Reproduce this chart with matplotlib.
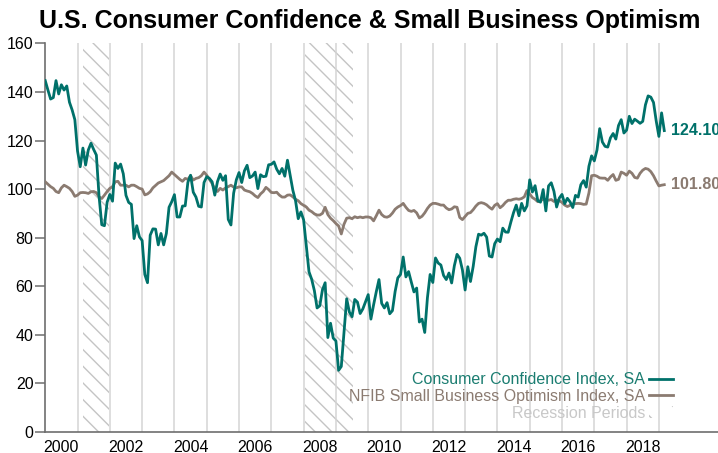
import numpy as np
import matplotlib.pyplot as plt
from matplotlib.lines import Line2D
from matplotlib.patches import Patch

plt.rcParams['font.family'] = ['Liberation Sans', 'DejaVu Sans']
plt.rcParams['hatch.linewidth'] = 1.0

title = "U.S. Consumer Confidence & Small Business Optimism"
start_year = 2000  # monthly data from Jan 2000

# Conference Board Consumer Confidence Index, SA (Jan 2000 - Mar 2019)
cci = [
    144.7, 140.8, 137.1, 137.7, 144.7, 139.2, 143.0, 140.8, 142.5, 135.8, 132.6, 128.6,
    115.7, 109.2, 116.9, 109.9, 116.1, 118.9, 116.3, 114.0, 97.0, 85.3, 84.9, 94.6,
    97.8, 95.0, 110.7, 108.5, 110.3, 106.3, 97.4, 94.5, 93.7, 79.6, 84.9, 80.3,
    78.8, 64.8, 61.4, 81.0, 83.6, 83.5, 77.0, 81.7, 77.0, 81.7, 92.5, 94.8,
    97.7, 88.5, 88.5, 93.0, 93.1, 102.8, 105.7, 98.7, 96.7, 92.9, 92.6, 102.7,
    105.1, 104.4, 103.0, 97.5, 103.1, 106.2, 103.6, 105.5, 87.5, 85.2, 98.3, 103.8,
    106.8, 102.7, 107.5, 109.8, 104.7, 105.4, 107.0, 100.2, 105.9, 105.1, 105.3, 110.0,
    110.2, 111.2, 108.2, 106.3, 108.5, 105.3, 111.9, 105.6, 99.5, 95.2, 87.8, 90.6,
    87.3, 76.4, 65.9, 62.8, 58.1, 51.0, 51.9, 58.5, 61.4, 38.8, 44.7, 38.6,
    37.4, 25.3, 26.9, 40.8, 54.8, 49.3, 47.4, 54.5, 53.4, 48.7, 50.6, 53.6,
    56.5, 46.4, 52.3, 57.7, 62.7, 52.9, 51.0, 53.2, 48.6, 49.9, 57.8, 63.4,
    64.8, 72.0, 63.8, 66.0, 61.7, 57.6, 59.2, 45.2, 46.4, 40.9, 55.2, 64.8,
    61.5, 71.6, 69.5, 68.7, 64.4, 62.7, 65.4, 61.3, 68.4, 73.1, 71.5, 66.7,
    58.4, 68.0, 61.9, 68.1, 76.2, 81.4, 81.0, 81.8, 80.2, 72.4, 72.0, 77.5,
    79.4, 78.3, 83.9, 82.3, 82.2, 86.4, 90.3, 93.4, 89.0, 94.1, 91.0, 93.1,
    103.8, 98.8, 101.4, 95.2, 94.6, 99.8, 91.0, 101.3, 102.6, 99.1, 92.6, 96.3,
    97.8, 94.0, 96.2, 94.7, 92.4, 97.4, 96.7, 101.8, 103.5, 100.8, 109.4, 113.7,
    111.6, 116.1, 124.9, 119.4, 117.6, 117.3, 121.1, 122.9, 120.6, 126.2, 128.6, 123.1,
    124.3, 130.0, 127.0, 128.8, 128.0, 127.1, 127.9, 134.7, 138.4, 137.9, 135.7, 128.1,
    121.7, 131.4, 124.1,
]

# NFIB Small Business Optimism Index, SA (Jan 2000 - Mar 2019)
nfib = [
    103.0, 102.0, 101.0, 100.3, 99.0, 98.5, 100.5, 101.6, 101.0, 100.3, 99.0, 97.0,
    97.5, 98.5, 98.6, 98.5, 98.2, 98.9, 99.0, 98.5, 96.8, 96.1, 97.5, 99.0,
    100.3, 101.0, 103.0, 103.2, 101.6, 101.6, 101.6, 100.9, 101.6, 101.6, 101.0, 100.3,
    100.0, 97.6, 98.0, 98.9, 100.5, 101.5, 102.5, 103.0, 103.5, 104.5, 105.5, 107.0,
    106.0, 105.0, 104.0, 103.2, 104.4, 104.0, 105.5, 103.7, 104.4, 104.7, 105.5, 107.0,
    105.7, 104.0, 102.3, 100.0, 99.0, 100.3, 99.6, 100.5, 101.0, 101.6, 100.8, 100.5,
    100.9, 100.9, 99.6, 99.2, 98.9, 98.2, 97.2, 96.5, 98.0, 99.0, 100.7, 99.8,
    98.6, 98.5, 98.7, 97.5, 96.7, 96.7, 97.5, 97.6, 96.8, 95.8, 95.2, 94.0,
    93.3, 92.6, 91.3, 90.7, 89.8, 89.3, 89.3, 90.0, 92.5, 89.5, 88.0, 87.0,
    85.8, 84.8, 81.5, 85.5, 88.0, 88.2, 87.8, 88.6, 88.2, 88.5, 88.2, 88.5,
    88.5, 88.2, 86.9, 89.0, 91.3, 89.5, 88.6, 88.4, 88.9, 90.1, 91.7, 92.6,
    93.2, 94.1, 92.5, 91.2, 90.8, 91.2, 90.2, 88.1, 88.8, 90.2, 92.0, 93.4,
    94.1, 94.1, 93.8, 93.4, 93.4, 92.2, 91.5, 91.8, 92.7, 92.5, 88.3, 87.4,
    88.7, 90.0, 90.3, 91.5, 93.0, 94.1, 94.4, 94.1, 93.5, 92.5, 91.7, 93.3,
    94.0, 92.3, 93.2, 94.5, 95.4, 95.4, 95.8, 96.0, 95.8, 96.1, 96.8, 99.4,
    98.0, 96.5, 95.8, 94.8, 95.2, 95.8, 95.7, 95.4, 95.7, 94.9, 95.4, 95.2,
    94.5, 93.4, 92.8, 93.3, 93.8, 94.0, 94.1, 94.0, 93.7, 93.8, 98.4, 105.5,
    105.7, 105.3, 104.6, 104.5, 104.5, 103.6, 105.0, 106.0, 103.6, 104.0, 107.0, 106.5,
    105.7, 107.4, 106.5, 104.8, 104.5, 106.5, 107.8, 108.5, 108.2, 107.2, 105.5, 103.3,
    101.3, 101.6, 101.8,
]

# recession periods (decimal years)
recessions = [(2001.17, 2001.97), (2008.04, 2009.53)]

year_labels = list(range(2000, 2019, 2))
grid_years = list(range(2001, 2020))
y_ticks = list(range(0, 161, 20))

teal = '#00716a'
taupe = '#8b7b71'
hatch_gray = '#c4c4c4'
axis_gray = '#6e6e6e'

months = start_year + np.arange(len(cci)) / 12

fig = plt.figure(figsize=(7.18, 4.53), dpi=100)
ax = fig.add_axes([0.063, 0.047, 0.937, 0.857])

for a, b in recessions:
    ax.axvspan(a, b, facecolor='none', edgecolor=hatch_gray, hatch='\\\\', linewidth=0, zorder=1)

ax.plot(months, nfib, color=taupe, lw=2, zorder=3)
ax.plot(months, cci, color=teal, lw=2, zorder=4)

ax.set_xlim(2000, 2020.83)
ax.set_ylim(0, 160)

# year labels sit mid-year, gridlines at year starts
ax.set_xticks([y + 0.5 for y in year_labels])
ax.set_xticklabels([str(y) for y in year_labels])
ax.set_xticks(grid_years, minor=True)
ax.tick_params(axis='x', which='both', length=0, pad=6, labelsize=11.5)
ax.grid(which='minor', axis='x', color='#d4d4d4', lw=1.1, zorder=0)

ax.set_yticks(y_ticks)
ax.tick_params(axis='y', length=7, width=1.1, color=axis_gray, pad=1.5, labelsize=11.5)

for side in ['top', 'right']:
    ax.spines[side].set_visible(False)
for side in ['left', 'bottom']:
    ax.spines[side].set_color(axis_gray)
    ax.spines[side].set_linewidth(1.2)

fig.text(0.515, 0.953, title, ha='center', va='center', fontsize=18, fontweight='bold')

# end-value labels
ax.annotate(f"{cci[-1]:.2f}", xy=(months[-1], cci[-1]), xytext=(5, 0), textcoords='offset points',
            va='center', ha='left', color=teal, fontsize=11.5, fontweight='bold', annotation_clip=False)
ax.annotate(f"{nfib[-1]:.2f}", xy=(months[-1], nfib[-1]), xytext=(5, 0), textcoords='offset points',
            va='center', ha='left', color=taupe, fontsize=11.5, fontweight='bold', annotation_clip=False)

handles = [
    Line2D([], [], color=teal, lw=2),
    Line2D([], [], color=taupe, lw=2),
    Patch(facecolor='none', edgecolor=hatch_gray, hatch='\\', linewidth=0),
]
labels = ['Consumer Confidence Index, SA', 'NFIB Small Business Optimism Index, SA', 'Recession Periods']
ax.legend(handles, labels, loc='lower right', bbox_to_anchor=(0.95, 0.0), frameon=False,
          markerfirst=False, fontsize=11.5, handlelength=1.5, handletextpad=0.25,
          labelspacing=0.1, borderpad=0.2, labelcolor=['#1b7d71', taupe, '#c8c8c8'])

fig.savefig('out.png', dpi=100)
